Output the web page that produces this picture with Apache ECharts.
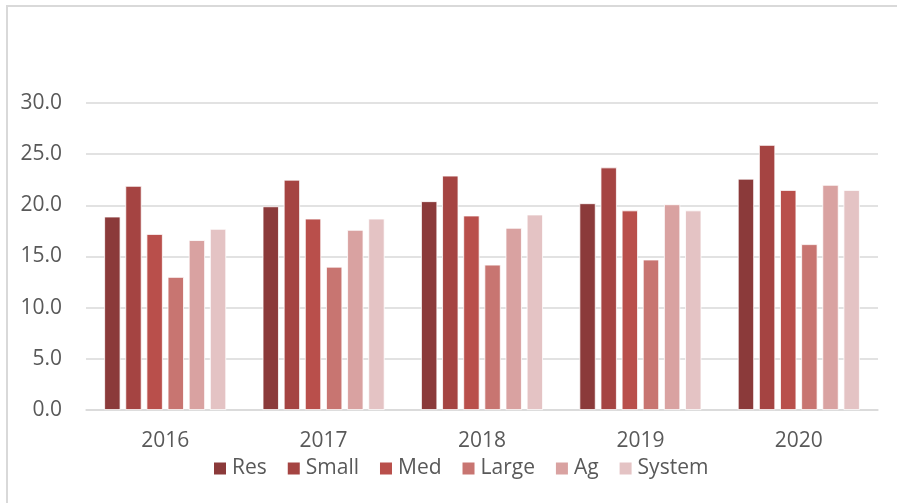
<!DOCTYPE html>
<html>
<head>
<meta charset="utf-8">
<script src="https://cdn.jsdelivr.net/npm/echarts@6/dist/echarts.min.js"></script>
<style>
html,body{margin:0;padding:0;background:#fff;}
#c{width:897px;height:503px;}
</style>
</head>
<body>
<div id="c"></div>
<script>
const categories = ['2016', '2017', '2018', '2019', '2020'];
const seriesNames = ['Res', 'Small', 'Med', 'Large', 'Ag', 'System'];
const res    = [18.9, 19.9, 20.4, 20.2, 22.6];
const small  = [21.9, 22.5, 22.9, 23.7, 25.9];
const med    = [17.2, 18.7, 19.0, 19.5, 21.5];
const large  = [13.0, 14.0, 14.2, 14.7, 16.2];
const ag     = [16.6, 17.6, 17.8, 20.1, 22.0];
const system = [17.7, 18.7, 19.1, 19.5, 21.5];
const colors = ['#8B3A3A', '#A54442', '#B94F4B', '#C87571', '#D9A2A1', '#E4C3C4'];
const dataList = [res, small, med, large, ag, system];

const font = '"Open Sans", Lato, sans-serif';
const chart = echarts.init(document.getElementById('c'));
chart.setOption({
  animation: false,
  graphic: [{
    type: 'rect',
    shape: { x: 7, y: 6, width: 1000, height: 1000 },
    style: { fill: 'none', stroke: '#d9d9d9', lineWidth: 2 },
    silent: true
  }],
  grid: { left: 86, right: 19, top: 103, bottom: 93 },
  legend: {
    data: seriesNames,
    top: 453,
    left: 207,
    itemWidth: 14,
    itemHeight: 14,
    itemGap: 19,
    icon: 'rect',
    textStyle: { color: '#595959', fontSize: 21, fontFamily: font }
  },
  xAxis: {
    type: 'category',
    data: categories,
    axisLine: { lineStyle: { color: '#d9d9d9', width: 1.5 } },
    axisTick: { show: false },
    axisLabel: { color: '#595959', fontSize: 21, fontFamily: font, margin: 21 }
  },
  yAxis: {
    type: 'value',
    min: 0, max: 30, interval: 5,
    axisLine: { show: false },
    axisTick: { show: false },
    axisLabel: { color: '#595959', fontSize: 21, fontFamily: font, margin: 24,
      formatter: v => v.toFixed(1) },
    splitLine: { lineStyle: { color: '#d9d9d9', width: 1.5 } }
  },
  series: seriesNames.map((n, i) => ({
    name: n,
    type: 'bar',
    data: dataList[i],
    barGap: '30%',
    barCategoryGap: '23%',
    itemStyle: { color: colors[i], borderColor: '#ffffff', borderWidth: 0.8 }
  }))
});
</script>
</body>
</html>
